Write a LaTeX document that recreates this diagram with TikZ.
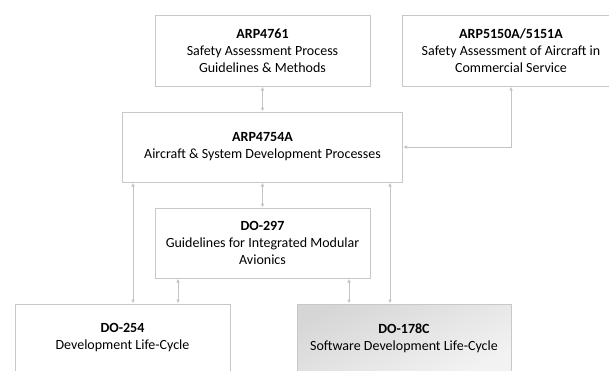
\documentclass[tikz,border=0pt]{standalone}
\usepackage{fontspec}
\setmainfont{Carlito}
\usetikzlibrary{arrows.meta}
\definecolor{boxline}{HTML}{C8C8C8}
\definecolor{connline}{HTML}{C4C4C4}
\tikzset{
  stdbox/.style={draw=boxline, line width=1pt, fill=white, rectangle, inner sep=0pt,
    align=center, font=\fontsize{14}{17}\selectfont},
  conn/.style={draw=connline, line width=1pt, {Latex[length=4pt,width=3.5pt]}-{Latex[length=4pt,width=3.5pt]}},
}
\begin{document}
\begin{tikzpicture}[x=1pt,y=-1pt]
\useasboundingbox (0,0) rectangle (609,370);
\clip (0,0) rectangle (609,370);
\node[stdbox, minimum width=215pt, minimum height=71pt] (a4761) at (262.5,50.5)
  {\textbf{ARP4761}\\Safety Assessment Process\\Guidelines \& Methods};
\node[stdbox, minimum width=218pt, minimum height=71pt] (a5150) at (511,50.5)
  {\textbf{ARP5150A/5151A}\\Safety Assessment of Aircraft in\\Commercial Service};
\node[stdbox, minimum width=280pt, minimum height=70pt] (a4754) at (262.5,147)
  {\textbf{ARP4754A}\\Aircraft \& System Development Processes};
\node[stdbox, minimum width=215pt, minimum height=70pt] (d297) at (262.5,243)
  {\textbf{DO-297}\\Guidelines for Integrated Modular\\Avionics};
\node[stdbox, minimum width=215pt, minimum height=68pt] (d254) at (122.5,338)
  {\textbf{DO-254}\\Development Life-Cycle};
\node[stdbox, minimum width=214pt, minimum height=68pt, fill=none,
  top color=black!16, bottom color=black!5, shading angle=25] (d178) at (404,338)
  {\textbf{DO-178C}\\Software Development Life-Cycle};
\coordinate (xa) at (133,0);
\coordinate (xb) at (178,0);
\coordinate (xc) at (349,0);
\coordinate (xd) at (390,0);
\draw[conn] (a4761.south) -- (a4754.north);
\draw[conn] (a4754.south) -- (d297.north);
\draw[conn] (xa |- a4754.south) -- (xa |- d254.north);
\draw[conn] (xb |- d297.south) -- (xb |- d254.north);
\draw[conn] (xc |- d297.south) -- (xc |- d178.north);
\draw[conn] (xd |- a4754.south) -- (xd |- d178.north);
\draw[conn] (a4754.east) -| (a5150.south);
\end{tikzpicture}
\end{document}
